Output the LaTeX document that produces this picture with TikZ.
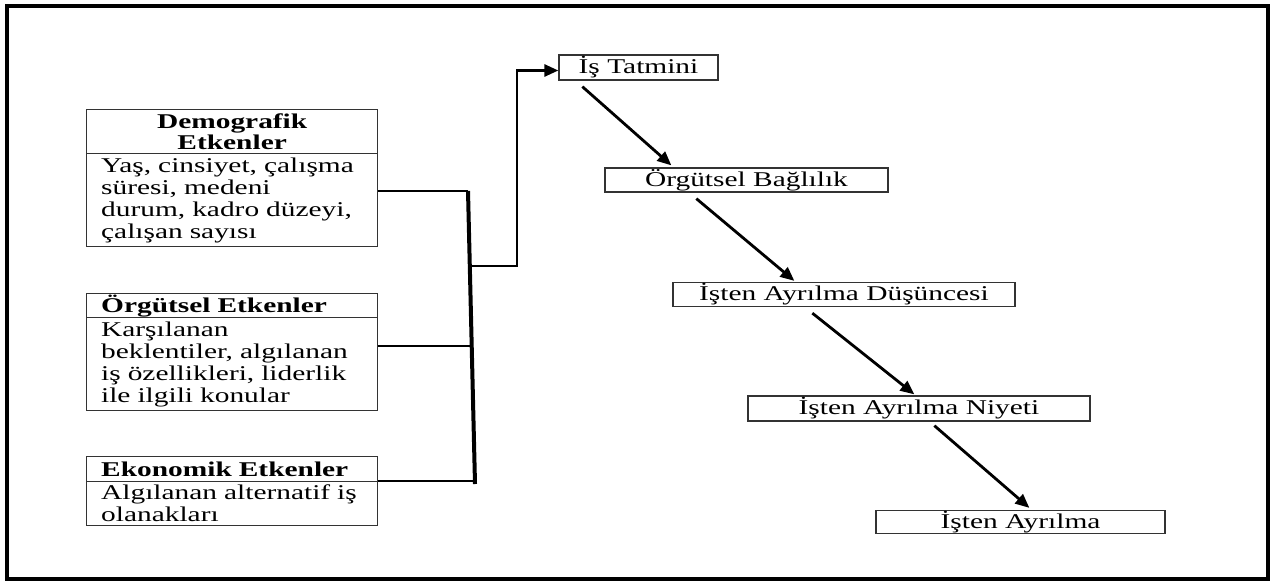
\documentclass[tikz,border=0pt]{standalone}
\usepackage{fontspec}
\setmainfont[FakeStretch=1.4]{Liberation Serif}
\usetikzlibrary{arrows.meta,calc}
\begin{document}
\begin{tikzpicture}[x=1pt,y=-1pt,
  txt/.style={font=\fontsize{21}{22}\selectfont},
  hdr/.style={font=\bfseries\fontsize{21}{21}\selectfont},
  frm/.style={draw=black!80,line width=1.3pt,inner sep=0pt,anchor=north west,minimum width=291pt,
    align=left,text width=262pt,inner xsep=14.5pt},
  rbox/.style={draw=black!80,line width=1.3pt,inner sep=0pt,txt},
  conn/.style={draw=black,line width=2.4pt},
  bar/.style={draw=black,line width=4pt},
  arr/.style={draw=black,line width=2.8pt,-{Triangle[length=14pt,width=12pt]}},
  outer/.style={draw=black,line width=4pt}]
\useasboundingbox (0,0) rectangle (1273,581);
\draw[outer] (6.5,5.5) rectangle (1267.5,578.5);

% left boxes
\node[frm,hdr,minimum height=44pt,align=center] (demH) at (86,109) {Demografik\\Etkenler};
\node[frm,txt,minimum height=93pt] (demB) at (86,153) {Yaş, cinsiyet, çalışma\\süresi, medeni\\durum, kadro düzeyi,\\çalışan sayısı};
\node[frm,hdr,minimum height=24pt] (orgH) at (86,293) {Örgütsel Etkenler};
\node[frm,txt,minimum height=93pt] (orgB) at (86,317) {Karşılanan\\beklentiler, algılanan\\iş özellikleri, liderlik\\ile ilgili konular};
\node[frm,hdr,minimum height=25pt] (ekoH) at (86,456) {Ekonomik Etkenler};
\node[frm,txt,minimum height=44pt] (ekoB) at (86,481) {Algılanan alternatif iş\\olanakları};

% right chain
\node[rbox,minimum width=159pt,minimum height=25pt] (tatmin) at (638.5,67.5) {İş Tatmini};
\node[rbox,minimum width=283pt,minimum height=24pt] (bag) at (746.5,180) {Örgütsel Bağlılık};
\node[rbox,minimum width=342pt,minimum height=24pt] (dus) at (844,294.5) {İşten Ayrılma Düşüncesi};
\node[rbox,minimum width=342pt,minimum height=25pt] (niyet) at (919,408.5) {İşten Ayrılma Niyeti};
\node[rbox,minimum width=289pt,minimum height=23pt] (ayr) at (1020.5,522) {İşten Ayrılma};

% bracket connector
\coordinate (bt) at (468,191);
\coordinate (bb) at (475,484);
\coordinate (bm) at (470.5,346);
\coordinate (jn) at (470,266);
\coordinate (up) at (517,266);
\draw[bar] (bt) -- (bb);
\draw[conn] (demB.east |- bt) -- (bt);
\draw[conn] (orgB.east |- bm) -- (bm);
\draw[conn] (ekoB.north east) -- (ekoB.north east -| bb);
\draw[arr] (jn) -- (up) |- ([yshift=-3pt]tatmin.west);

% chain arrows
\draw[arr] ([shift={(24,6)}]tatmin.south west) -- ([shift={(67,-2)}]bag.north west);
\draw[arr] ([shift={(92,6)}]bag.south west) -- ([shift={(122,-1)}]dus.north west);
\draw[arr] ([shift={(140,6)}]dus.south west) -- ([shift={(167,-1)}]niyet.north west);
\draw[arr] ([shift={(187,4)}]niyet.south west) -- ([shift={(154,-2)}]ayr.north west);
\end{tikzpicture}
\end{document}
